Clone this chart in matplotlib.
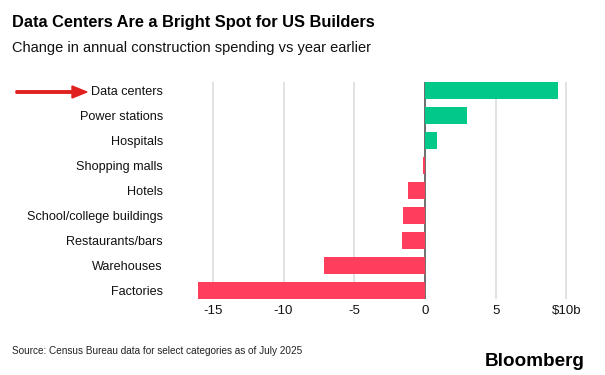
#!/usr/bin/env python
"""Bloomberg-style bar chart: change in US construction spending by category."""

import matplotlib.pyplot as plt
from matplotlib.patches import FancyArrow

plt.rcParams["font.family"] = ["Liberation Sans", "DejaVu Sans"]

categories = [
    "Data centers",
    "Power stations",
    "Hospitals",
    "Shopping malls",
    "Hotels",
    "School/college buildings",
    "Restaurants/bars",
    "Warehouses",
    "Factories",
]
change_bn = [9.4, 2.97, 0.87, -0.14, -1.2, -1.54, -1.63, -7.13, -16.07]
tick_values = [-15, -10, -5, 0, 5, 10]
tick_labels = ["-15", "-10", "-5", "0", "5", "$10b"]

GREEN = "#00c98a"
RED = "#ff3d5c"
BAR_H = 0.69


def main() -> None:
    fig = plt.figure(figsize=(6.05, 3.75), dpi=100)
    ax = fig.add_axes([197.7 / 605, 1 - 299 / 375, (572 - 197.7) / 605, (299 - 82) / 375])

    ypos = list(range(len(categories)))
    colors = [GREEN if v >= 0 else RED for v in change_bn]
    ax.barh(ypos, change_bn, height=BAR_H, color=colors, zorder=3)

    ax.set_ylim(len(categories) - 1 + BAR_H / 2, -BAR_H / 2)
    ax.set_xlim(-16.07, 10.4)

    for x in tick_values:
        if x == 0:
            ax.axvline(0, color="#555555", lw=1.2, zorder=2)
        else:
            ax.axvline(x, color="#dddddd", lw=1.2, zorder=1)

    ax.set_xticks(tick_values)
    ax.set_xticklabels(tick_labels, fontsize=9.5)
    ax.set_yticks(ypos)
    ax.set_yticklabels(categories, fontsize=9.1)
    ax.tick_params(axis="both", length=0, colors="#111111")
    ax.tick_params(axis="y", pad=25)
    ax.tick_params(axis="x", pad=4)
    for spine in ax.spines.values():
        spine.set_visible(False)

    fig.text(12 / 605, 1 - 22 / 375, "Data Centers Are a Bright Spot for US Builders",
             fontsize=11.8, fontweight="bold", va="center", ha="left")
    fig.text(12 / 605, 1 - 48 / 375, "Change in annual construction spending vs year earlier",
             fontsize=10.5, va="center", ha="left", color="#111111")
    fig.text(12 / 605, 1 - 351 / 375, "Source: Census Bureau data for select categories as of July 2025",
             fontsize=7.2, va="center", ha="left", color="#222222")
    fig.text(585 / 605, 1 - 361 / 375, "Bloomberg", fontsize=13.6, fontweight="bold",
             va="center", ha="right")

    fig.patches.append(FancyArrow(
        16 / 605, 1 - 92 / 375, 71 / 605, 0, width=0.0065, head_width=0.032,
        head_length=15 / 605, length_includes_head=True, color="#e0201f",
        transform=fig.transFigure, figure=fig))

    fig.savefig("out.png", dpi=100)
    plt.close(fig)


if __name__ == "__main__":
    main()
